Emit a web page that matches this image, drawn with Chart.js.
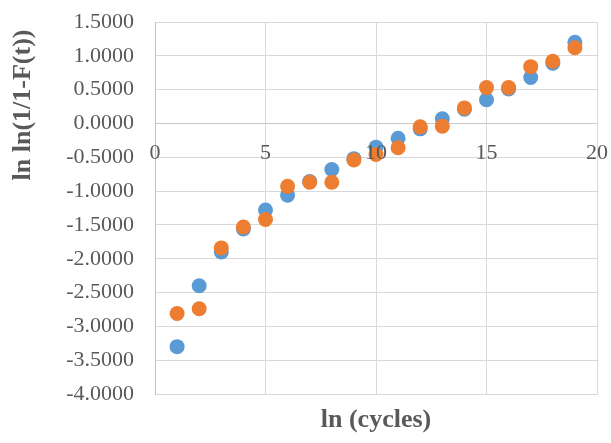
<!DOCTYPE html>
<html>
<head>
<meta charset="utf-8">
<script src="https://cdn.jsdelivr.net/npm/chart.js@4/dist/chart.umd.min.js"></script>
<style>
  html, body { margin: 0; padding: 0; background: #ffffff; }
  #wrap { width: 611px; height: 443px; position: relative; }
</style>
</head>
<body>
<div id="wrap"><canvas id="chart" width="611" height="443"></canvas></div>
<script>
// Weibull plot data: ln(cycles) vs ln ln(1/(1-F(t)))
const cycles = [1, 2, 3, 4, 5, 6, 7, 8, 9, 10, 11, 12, 13, 14, 15, 16, 17, 18, 19];
const seriesBlue = [-3.30, -2.40, -1.90, -1.56, -1.28, -1.06, -0.86, -0.68, -0.52, -0.35,
                    -0.22, -0.08, 0.07, 0.21, 0.35, 0.51, 0.68, 0.89, 1.20];
const seriesOrange = [-2.81, -2.74, -1.84, -1.53, -1.42, -0.93, -0.87, -0.87, -0.54, -0.46,
                      -0.36, -0.05, -0.04, 0.23, 0.53, 0.53, 0.84, 0.92, 1.12];
const xTicks = [0, 5, 10, 15, 20];
const yTicks = [-4.0, -3.5, -3.0, -2.5, -2.0, -1.5, -1.0, -0.5, 0.0, 0.5, 1.0, 1.5];
const xTitle = 'ln (cycles)';
const yTitle = 'ln ln(1/1-F(t))';

const FONT = 'Liberation Serif';
const TEXT = '#595959';

const toPoints = ys => cycles.map((x, i) => ({ x: x, y: ys[i] }));

// Category labels sit just under the horizontal axis line (y = 0),
// and the vertical title is set high on the left side.
const axisLabels = {
  id: 'axisLabels',
  afterDraw(chart) {
    const ctx = chart.ctx;
    const xs = chart.scales.x, ys = chart.scales.y;
    const y0 = ys.getPixelForValue(0);
    ctx.save();
    ctx.fillStyle = TEXT;
    ctx.font = '22px "' + FONT + '"';
    ctx.textAlign = 'center';
    ctx.textBaseline = 'alphabetic';
    xTicks.forEach(v => ctx.fillText(String(v), xs.getPixelForValue(v), y0 + 36));
    ctx.font = 'bold 26px "' + FONT + '"';
    ctx.translate(23, 105);
    ctx.rotate(-Math.PI / 2);
    ctx.textAlign = 'center';
    ctx.textBaseline = 'middle';
    ctx.fillText(yTitle, 0, 0);
    ctx.restore();
  }
};

new Chart(document.getElementById('chart'), {
  type: 'scatter',
  data: {
    datasets: [
      { label: 'A', data: toPoints(seriesBlue), backgroundColor: '#5B9BD5', order: 1,
        pointRadius: 7.5, borderWidth: 0, pointHoverRadius: 7.5 },
      { label: 'B', data: toPoints(seriesOrange), backgroundColor: '#ED7D31', order: 0,
        pointRadius: 7.5, borderWidth: 0, pointHoverRadius: 7.5 }
    ]
  },
  options: {
    responsive: false,
    animation: false,
    events: [],
    layout: { padding: { top: 22, right: 14, bottom: 0, left: 0 } },
    plugins: { legend: { display: false }, tooltip: { enabled: false } },
    scales: {
      x: {
        type: 'linear', min: 0, max: 20,
        afterBuildTicks: s => { s.ticks = xTicks.map(v => ({ value: v })); },
        afterFit: s => { s.height = 49; s.paddingLeft = 0; s.paddingRight = 0; },
        ticks: { display: false },
        grid: { color: '#D9D9D9', lineWidth: 1, drawTicks: false },
        border: { display: true, color: '#D9D9D9', width: 1 },
        title: { display: true, text: xTitle, color: TEXT,
                 font: { family: FONT, size: 26, weight: 'bold' }, padding: { top: 0, bottom: 7 } }
      },
      y: {
        type: 'linear', min: -4, max: 1.5,
        afterBuildTicks: s => { s.ticks = yTicks.map(v => ({ value: v })); },
        afterFit: s => { s.width = 155; s.paddingTop = 0; s.paddingBottom = 0; },
        ticks: { color: TEXT, font: { family: FONT, size: 22 }, padding: 21,
                 callback: v => Number(v).toFixed(4) },
        grid: { color: c => (c.tick && c.tick.value === 0 ? '#C8C8C8' : '#D9D9D9'),
                lineWidth: 1, drawTicks: false },
        border: { display: true, color: '#BFBFBF', width: 1 }
      }
    }
  },
  plugins: [axisLabels]
});
</script>
</body>
</html>
